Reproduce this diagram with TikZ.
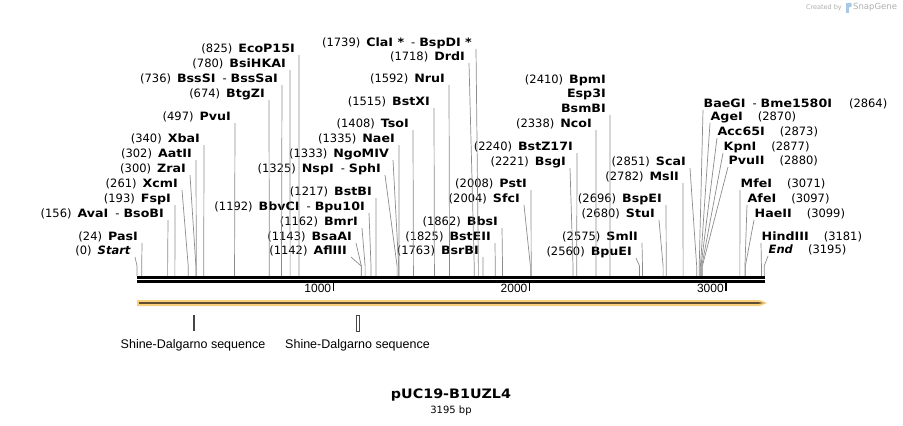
\documentclass[tikz,border=0pt]{standalone}
\usepackage{fontspec}
\setmainfont{DejaVu Sans}[BoldFeatures={FakeStretch=1.1}]
\newfontfamily\featfont{Liberation Sans}
\usetikzlibrary{calc,positioning}
\definecolor{sitegray}{RGB}{140,140,140}
\definecolor{featorange}{RGB}{249,206,125}
\definecolor{featline}{RGB}{96,78,48}
\definecolor{featbar}{RGB}{70,70,70}
\definecolor{logogray}{RGB}{175,175,175}
\definecolor{logoblue}{RGB}{168,200,232}
\newcommand{\lbl}[2]{(#1)\hspace{6pt}\textbf{#2}}
\newcommand{\rbl}[2]{\textbf{#1}\hspace{15pt}(#2)}
\newcommand{\pair}[2]{\textbf{#1}\hspace{7pt}-\hspace{4pt}\textbf{#2}}

\begin{document}
\begin{tikzpicture}[x=1pt, y=-1pt,
    enz/.style={font=\fontsize{11.5}{11.5}\selectfont, inner xsep=4pt, inner ysep=1pt, text height=8pt, text depth=1.5pt, anchor=south east},
    enzright/.style={enz, inner xsep=0.5pt, anchor=south west},
    cut/.style={draw=sitegray, line width=0.7pt},
    backbone/.style={line width=3pt, black},
    tick/.style={line width=1.5pt, black},
    ticklabel/.style={font=\featfont\fontsize{12}{12}\selectfont, anchor=east, inner sep=1pt},
    featlabel/.style={font=\featfont\fontsize{12.5}{12.5}\selectfont, inner sep=0pt}
]
\useasboundingbox (0,0) rectangle (903,426);
\fill[white] (0,0) rectangle (903,426);

% sites on the sequence
\foreach \p in {0,24,156,193,261,300,302,340,497,674,736,780,825,1142,1143,1162,1192,1217,1325,1333,1335,1408,1515,1592,1718,1739,1763,1825,1862,2004,2008,2221,2240,2338,2410,2560,2575,2680,2696,2782,2851,2864,2870,2873,2877,2880,3071,3097,3099,3181,3195} {
    \coordinate (s\p) at ({137+\p*0.1963},276);
    \coordinate (k\p) at ({137+\p*0.1963},266);
}

% left group
\node[enz] (Start) at (135,257) {(0)\hspace{6pt}\textbf{\textit{Start}}};
\node[enz] (PasI) at (142,243) {\lbl{24}{PasI}};
\node[enz] (AvaI) at (168,220) {(156)\hspace{6pt}\pair{AvaI}{BsoBI}};
\node[enz] (FspI) at (175,205) {\lbl{193}{FspI}};
\node[enz] (XcmI) at (182,190) {\lbl{261}{XcmI}};
\node[enz] (ZraI) at (190,175) {\lbl{300}{ZraI}};
\node[enz] (AatII) at (196,160) {\lbl{302}{AatII}};
\node[enz] (XbaI) at (204,145) {\lbl{340}{XbaI}};
\node[enz] (PvuI) at (235,123) {\lbl{497}{PvuI}};
\node[enz] (BtgZI) at (269,100) {\lbl{674}{BtgZI}};
\node[enz] (BssSI) at (282,85) {(736)\hspace{6pt}\pair{BssSI}{BssSaI}};
\node[enz] (BsiHKAI) at (290,70) {\lbl{780}{BsiHKAI}};
\node[enz] (EcoP15I) at (299,55) {\lbl{825}{EcoP15I}};

% middle group
\node[enz] (AflIII) at (351,257) {\lbl{1142}{AflIII}};
\node[enz] (BsaAI) at (356,243) {\lbl{1143}{BsaAI}};
\node[enz] (BmrI) at (362,228) {\lbl{1162}{BmrI}};
\node[enz] (BbvCI) at (369,213) {(1192)\hspace{6pt}\pair{BbvCI}{Bpu10I}};
\node[enz] (BstBI) at (376,198) {\lbl{1217}{BstBI}};
\node[enz] (NspI) at (385,175) {(1325)\hspace{6pt}\pair{NspI}{SphI}};
\node[enz] (NgoMIV) at (393,160) {\lbl{1333}{NgoMIV}};
\node[enz] (NaeI) at (399,145) {\lbl{1335}{NaeI}};
\node[enz] (TsoI) at (413,130) {\lbl{1408}{TsoI}};
\node[enz] (BstXI) at (434,108) {\lbl{1515}{BstXI}};
\node[enz] (NruI) at (449,85) {\lbl{1592}{NruI}};
\node[enz] (DrdI) at (469,63) {\lbl{1718}{DrdI}};
\node[enz] (ClaI) at (476,49) {(1739)\hspace{6pt}\pair{ClaI *}{BspDI *}};
\node[enz] (BsrBI) at (483,257) {\lbl{1763}{BsrBI}};
\node[enz] (BstEII) at (495,243) {\lbl{1825}{BstEII}};
\node[enz] (BbsI) at (502,228) {\lbl{1862}{BbsI}};
\node[enz] (SfcI) at (524,205) {\lbl{2004}{SfcI}};
\node[enz] (PstI) at (531,190) {\lbl{2008}{PstI}};
\node[enz] (BsgI) at (570,168) {\lbl{2221}{BsgI}};
\node[enz] (BstZ17I) at (577,153) {\lbl{2240}{BstZ17I}};
\node[enz] (NcoI) at (596,130) {\lbl{2338}{NcoI}};
\node[enz] (BpmI) at (610,86) {\lbl{2410}{BpmI}};
\node[enz] (Esp3I) at (610,100) {\textbf{Esp3I}};
\node[enz] (BsmBI) at (610,115) {\textbf{BsmBI}};
\node[enz] (BpuEI) at (636,258) {\lbl{2560}{BpuEI}};
\node[enz] (SmlI) at (642,243) {\lbl{2575}{SmlI}};
\node[enz] (StuI) at (659,220) {\lbl{2680}{StuI}};
\node[enz] (BspEI) at (666,205) {\lbl{2696}{BspEI}};
\node[enz] (MslI) at (683,183) {\lbl{2782}{MslI}};
\node[enz] (ScaI) at (690,168) {\lbl{2851}{ScaI}};

% right group
\node[enzright] (BaeGI) at (703,110) {\pair{BaeGI}{Bme1580I}\hspace{17pt}(2864)};
\node[enzright] (AgeI) at (710,123) {\rbl{AgeI}{2870}};
\node[enzright] (Acc65I) at (717,138) {\rbl{Acc65I}{2873}};
\node[enzright] (KpnI) at (723,153) {\rbl{KpnI}{2877}};
\node[enzright] (PvuII) at (728,167) {\rbl{PvuII}{2880}};
\node[enzright] (MfeI) at (740,190) {\rbl{MfeI}{3071}};
\node[enzright] (AfeI) at (747,205) {\rbl{AfeI}{3097}};
\node[enzright] (HaeII) at (754,220) {\rbl{HaeII}{3099}};
\node[enzright] (HindIII) at (761,243) {\rbl{HindIII}{3181}};
\node[enzright] (End) at (768,256) {\textbf{\textit{End}}\hspace{15pt}(3195)};

% cut lines
\foreach \n/\p in {Start/0, PasI/24, AvaI/156, FspI/193, XcmI/261, ZraI/300, AatII/302, XbaI/340, PvuI/497, BtgZI/674, BssSI/736, BsiHKAI/780, EcoP15I/825, AflIII/1142, BsaAI/1143, BmrI/1162, BbvCI/1192, BstBI/1217, NspI/1325, NgoMIV/1333, NaeI/1335, TsoI/1408, BstXI/1515, NruI/1592, DrdI/1718, ClaI/1739, BsrBI/1763, BstEII/1825, BbsI/1862, SfcI/2004, PstI/2008, BsgI/2221, BstZ17I/2240, NcoI/2338, BsmBI/2410, BpuEI/2560, SmlI/2575, StuI/2680, BspEI/2696, MslI/2782, ScaI/2851}
    \draw[cut] (\n.south east) -- (k\p) -- (s\p);
\foreach \n/\p in {BaeGI/2864, AgeI/2870, Acc65I/2873, KpnI/2877, PvuII/2880, MfeI/3071, AfeI/3097, HaeII/3099, HindIII/3181, End/3195}
    \draw[cut] (\n.south west) -- (k\p) -- (s\p);

% sequence
\draw[backbone] (137,277.5) -- (765,277.5);
\draw[backbone] (137,281.5) -- (765,281.5);
\foreach \t in {1000,2000,3000} {
    \draw[tick] ({137+\t*0.1963},283) -- ({137+\t*0.1963},291);
    \node[ticklabel] (t\t) at ({136+\t*0.1963},288) {\t};
}

% feature arrow
\fill[featorange] (137,300) -- (760,300) -- (767,303) -- (760,306) -- (137,306) -- cycle;
\fill[featline] (139,302.2) -- (759,302.2) -- (764,303) -- (759,303.8) -- (139,303.8) -- cycle;

% Shine-Dalgarno features
\fill[featbar] (192.5,315) rectangle (194.5,331);
\draw[featbar, line width=0.8pt] (356.5,315) rectangle (359,331);
\node[featlabel] (sd1) at (193,345) {Shine-Dalgarno sequence};
\node[featlabel] (sd2) at (357.5,345) {Shine-Dalgarno sequence};

% title
\node[font=\fontsize{13}{13}\selectfont\bfseries] (title) at (451,395) {pUC19-B1UZL4};
\node[font=\fontsize{10}{10}\selectfont, below=0pt of title, inner sep=1pt] (length) {3195 bp};

% created by
\node[font=\fontsize{6.5}{6.5}\selectfont, text=logogray, anchor=east, inner sep=0pt] (created) at (842,7.5) {Created by};
\fill[logoblue] (845.5,2.5) rectangle (848.5,12.5);
\fill[logoblue] (848.5,2.5) -- (851.5,3.5) -- (851.5,6.5) -- (848.5,7.5) -- cycle;
\node[font=\fontsize{8.5}{8.5}\selectfont, text=logogray, anchor=west, inner sep=0pt] (snapgene) at (853,7.5) {SnapGene};
\end{tikzpicture}
\end{document}
